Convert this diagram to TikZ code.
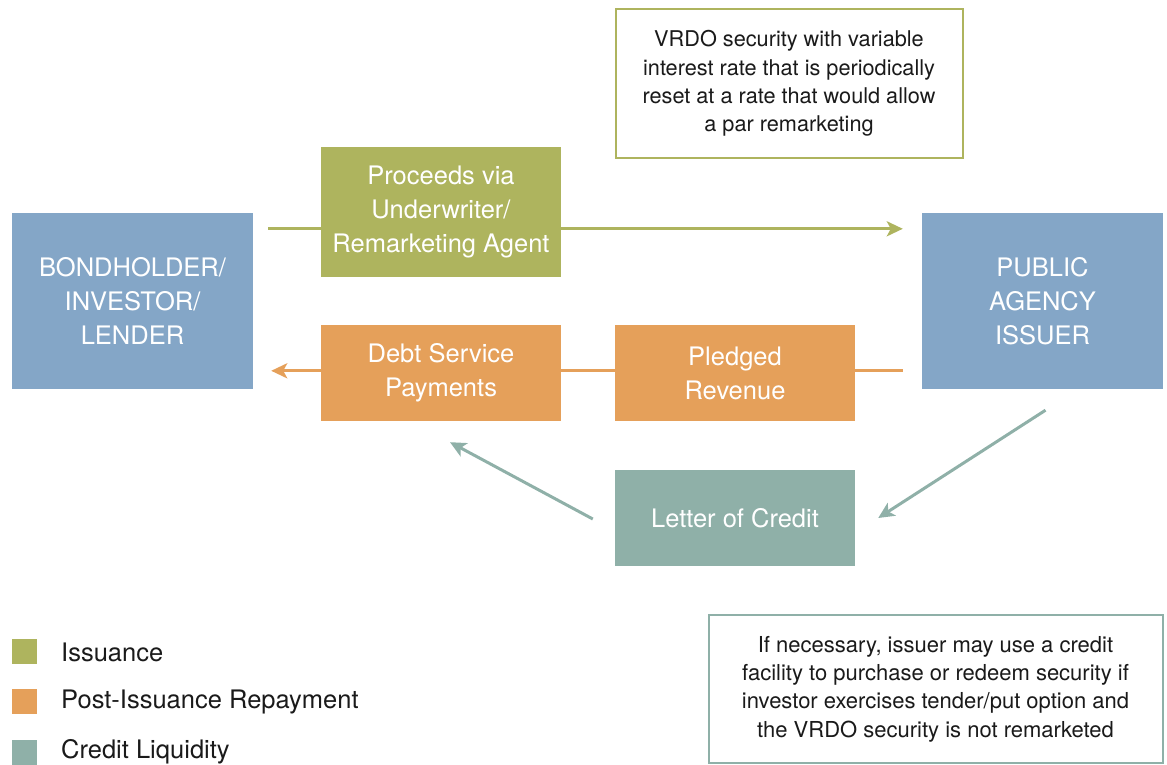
\documentclass[tikz,border=0pt]{standalone}
\usepackage{fontspec}
\setmainfont{TeX Gyre Heros}
\usetikzlibrary{arrows.meta,backgrounds,calc}
\definecolor{cblue}{HTML}{84A6C7}
\definecolor{cgreen}{HTML}{AEB45E}
\definecolor{corange}{HTML}{E5A05A}
\definecolor{cteal}{HTML}{8FB0A8}
\definecolor{ctext}{HTML}{1A1A1A}
\tikzset{
  party/.style={fill=cblue, draw=none, text=white, minimum width=241pt, minimum height=176pt, align=center, inner sep=0pt, font={\fontsize{25.5}{34}\selectfont}},
  flowbox/.style={draw=none, text=white, minimum width=240pt, align=center, inner sep=0pt, font={\fontsize{25.5}{34}\selectfont}},
  notebox/.style={fill=white, line width=2pt, align=center, inner sep=0pt, text=ctext, font={\fontsize{21.7}{28.3}\selectfont}},
  flow/.style={line width=3pt, -{Stealth[length=16pt,width=15pt,inset=4pt]}},
  legsq/.style={minimum width=25pt, minimum height=25pt, inner sep=0pt, draw=none},
  legtext/.style={anchor=west, inner sep=0pt, text=ctext, font={\fontsize{25.5}{30}\selectfont}}
}
\begin{document}
\begin{tikzpicture}[x=1pt,y=-1pt]
\useasboundingbox (0,0) rectangle (1167,765);
% parties
\node[party] (bond) at (132.5,301) {BONDHOLDER/\\INVESTOR/\\LENDER};
\node[party] (pub) at (1042.5,301) {PUBLIC\\AGENCY\\ISSUER};
% flow boxes
\node[flowbox, fill=cgreen, minimum height=130pt] (proc) at (441,212) {Proceeds via\\Underwriter/\\Remarketing Agent};
\node[flowbox, fill=corange, minimum height=96pt] (debt) at (441,373) {Debt Service\\Payments};
\node[flowbox, fill=corange, minimum height=96pt] (pled) at (735,373) {Pledged\\Revenue};
\node[flowbox, fill=cteal, minimum height=96pt] (loc) at (735,518) {Letter of Credit};
% notes
\node[notebox, draw=cgreen, minimum width=347pt, minimum height=148pt] (vrdo) at (789,83.5) {VRDO security with variable\\interest rate that is periodically\\reset at a rate that would allow\\a par remarketing};
\node[notebox, draw=cteal, minimum width=454pt, minimum height=148pt, font={\fontsize{22}{28.3}\selectfont}] (facil) at (935.5,689) {If necessary, issuer may use a credit\\facility to purchase or redeem security if\\investor exercises tender/put option and\\the VRDO security is not remarketed};
% connectors
\begin{scope}[on background layer]
\draw[flow, draw=cgreen, fill=cgreen] ($(bond.north east)+(15,16)$) -- ($(pub.north west)+(-19,16)$);
\draw[flow, draw=corange, fill=corange] ($(pub.north west)+(-19,158)$) -- ($(bond.north east)+(18,158)$);
\end{scope}
\draw[flow, draw=cteal, fill=cteal] ($(pub.south)+(3,21)$) -- ($(loc.east)+(23,0)$);
\draw[flow, draw=cteal, fill=cteal] ($(loc.west)+(-22,1)$) -- ($(debt.south)+(9,21)$);
% legend
\node[legsq, fill=cgreen] (lg1) at (24.5,651.5) {};
\node[legtext] (lt1) at (61,652) {Issuance};
\node[legsq, fill=corange] (lg2) at (24.5,701.5) {};
\node[legtext] (lt2) at (61,702) {Post-Issuance Repayment};
\node[legsq, fill=cteal] (lg3) at (24.5,752.5) {};
\node[legtext] (lt3) at (61,752) {Credit Liquidity};
\end{tikzpicture}
\end{document}
